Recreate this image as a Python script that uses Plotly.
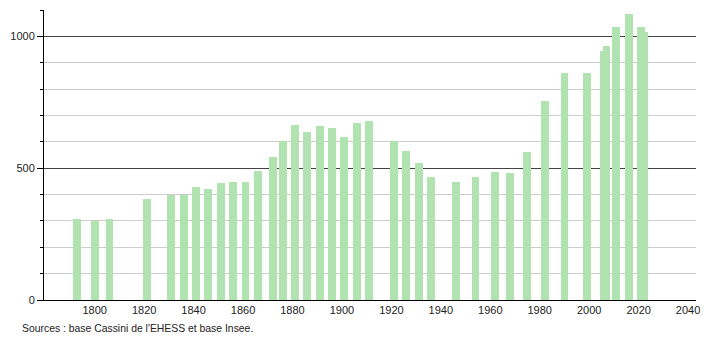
import plotly.graph_objects as go

years = [1793, 1800, 1806, 1821, 1831, 1836, 1841, 1846, 1851, 1856, 1861, 1866,
         1872, 1876, 1881, 1886, 1891, 1896, 1901, 1906, 1911, 1921, 1926, 1931,
         1936, 1946, 1954, 1962, 1968, 1975, 1982, 1990, 1999, 2006, 2007, 2011,
         2016, 2021, 2022]
population = [306, 301, 306, 385, 398, 398, 429, 420, 444, 447, 447, 491,
              541, 604, 662, 636, 659, 651, 617, 673, 678, 604, 567, 520,
              468, 449, 468, 487, 480, 562, 754, 860, 860, 945, 964, 1036,
              1083, 1036, 1016]
x_ticks = [1800, 1820, 1840, 1860, 1880, 1900, 1920, 1940, 1960, 1980, 2000, 2020, 2040]
y_ticks = [0, 500, 1000]
source_text = "Sources : base Cassini de l'EHESS et base Insee."

fig = go.Figure()
fig.add_trace(go.Bar(
    x=years, y=population, width=3.2,
    marker=dict(color="#b0e3b0", line=dict(width=0)),
    hoverinfo="x+y",
))

font = "Liberation Sans, Arial, sans-serif"
fig.update_layout(
    width=710, height=340,
    margin=dict(l=44, r=10, t=10, b=40),
    paper_bgcolor="white", plot_bgcolor="white",
    showlegend=False,
    font=dict(family=font, size=11, color="#222"),
    bargap=0,
    xaxis=dict(
        range=[1779.5, 2043.2], tickvals=x_ticks, ticks="", showgrid=False,
        showline=True, linecolor="#000", linewidth=1, zeroline=False,
        tickfont=dict(size=11, color="#222"),
    ),
    yaxis=dict(
        range=[0, 1100], tickvals=y_ticks, ticks="outside", ticklen=6,
        tickcolor="#000", showline=True, linecolor="#000", linewidth=1,
        showgrid=True, gridcolor="#444", gridwidth=1, zeroline=False,
        tickfont=dict(size=11, color="#222"),
        minor=dict(dtick=100, tick0=0, ticks="outside", ticklen=3, tickcolor="#000",
                   showgrid=True, gridcolor="#cccccc", gridwidth=1),
    ),
    annotations=[dict(
        text=source_text, xref="paper", yref="paper", x=-0.037, y=-0.097,
        xanchor="left", yanchor="middle", showarrow=False,
        font=dict(size=10.4, color="#222", family=font),
    )],
)
fig.write_html("out.html")
